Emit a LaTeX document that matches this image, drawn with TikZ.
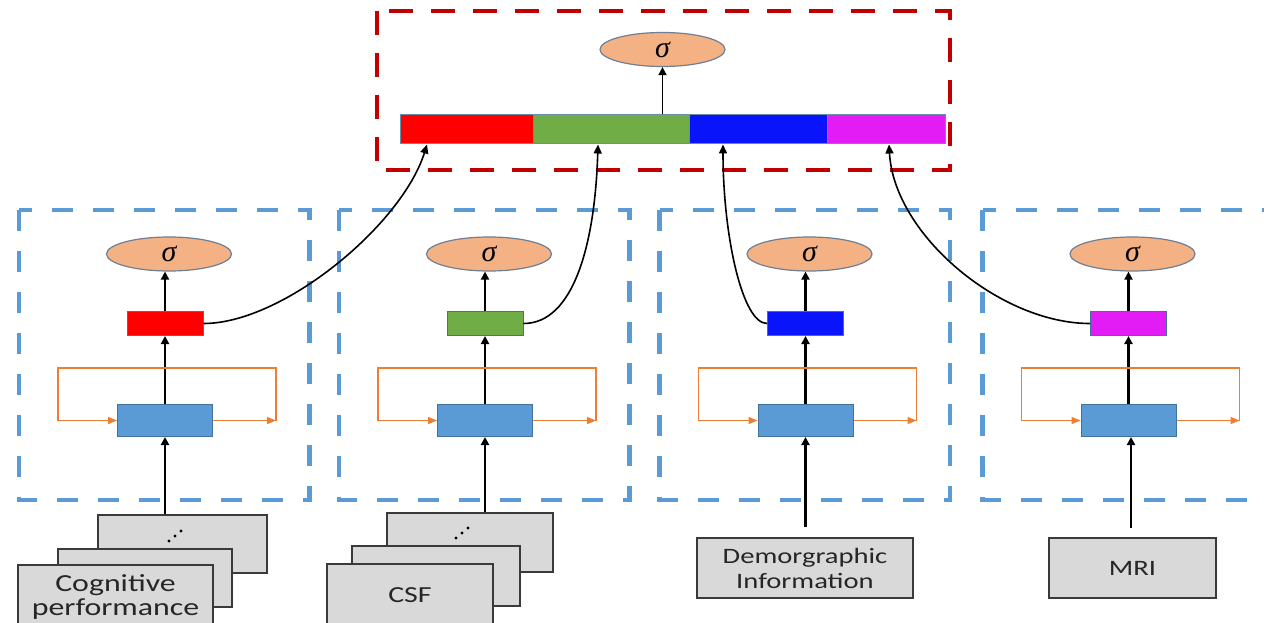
\documentclass[tikz,border=0pt]{standalone}
\usepackage{fontspec}
\setmainfont{Carlito}[FakeStretch=1.3]
\newfontfamily\sigfont{Liberation Serif}
\usetikzlibrary{shapes.geometric,arrows.meta,calc}
\definecolor{pblue}{HTML}{5B9BD5}
\definecolor{pred}{HTML}{C00000}
\definecolor{sigfill}{HTML}{F4B183}
\definecolor{sigedge}{HTML}{6D7F95}
\definecolor{cellfill}{HTML}{5B9BD5}
\definecolor{celledge}{HTML}{41719C}
\definecolor{oline}{HTML}{ED7D31}
\definecolor{cred}{HTML}{FF0000}
\definecolor{cgreen}{HTML}{70AD47}
\definecolor{cblue}{HTML}{0A14FA}
\definecolor{cmag}{HTML}{E31CF5}
\definecolor{boxfill}{HTML}{D9D9D9}
\definecolor{boxedge}{HTML}{3A3A3A}
\definecolor{txt}{HTML}{262626}
\begin{document}
\begin{tikzpicture}[x=1pt,y=-1pt,
  panel/.style={draw=pblue, line width=4.5pt, dash pattern=on 21pt off 20pt},
  outer/.style={draw=pred, line width=4.5pt, dash pattern=on 24pt off 18pt},
  sig/.style={ellipse, draw=sigedge, fill=sigfill, line width=1.2pt, minimum width=125pt, minimum height=34pt, inner sep=0pt, font=\sigfont\itshape\fontsize{30}{30}\selectfont},
  hid/.style={draw=celledge, line width=1pt, minimum width=76pt, minimum height=24pt, inner sep=0pt},
  cell/.style={draw=celledge, fill=cellfill, line width=1pt, minimum width=95pt, minimum height=32pt, inner sep=0pt},
  seg/.style={draw=celledge!80, line width=1pt, minimum height=29pt, inner sep=0pt},
  inbox/.style={draw=boxedge, fill=boxfill, line width=1.6pt, inner sep=0pt, align=center, text=txt, font=\fontsize{22}{25}\selectfont},
  arr/.style={draw=black, line width=2.2pt, -{Triangle[length=8pt,width=8pt]}},
  link/.style={draw=black, line width=1.6pt, -{Triangle[length=9pt,width=8pt]}},
  loopline/.style={draw=oline, line width=1.4pt},
  looparr/.style={draw=oline, line width=1.4pt, -{Triangle[length=9pt,width=7pt]}},
]
\fill[white] (0,0) rectangle (1264,623);
\useasboundingbox (0,0) rectangle (1264,623);

% top fusion block
\draw[outer] (377,11) rectangle (950,170);
\node[sig] (sig0) at (662.5,49.5) {σ};
\node[seg, fill=cred, minimum width=133pt] (s1) at (466.5,129.5) {};
\node[seg, fill=cgreen, minimum width=156pt] (s2) at (611,129.5) {};
\node[seg, fill=cblue, minimum width=138pt] (s3) at (758,129.5) {};
\node[seg, fill=cmag, minimum width=118pt] (s4) at (886,129.5) {};
\draw[arr, line width=1.7pt] (sig0.south |- s2.north) -- (sig0.south);

% panels
\foreach \i/\cx/\col in {1/165/cred,2/485/cgreen,3/805.5/cblue,4/1128.5/cmag}{
  \draw[panel] (\cx-146,210) rectangle (\cx+144.5,500);
  \node[sig] (sig\i) at (\cx+4,254) {σ};
  \node[hid, fill=\col] (h\i) at (\cx,323.5) {};
  \node[cell] (c\i) at (\cx,420.5) {};
  \draw[arr] (c\i.north) -- (h\i.south);
  \draw[arr] (h\i.north) -- (h\i.north |- sig\i.south);
  \draw[looparr] (c\i.east) -- ($(c\i.center)+(111,0)$);
  \draw[loopline] ($(c\i.center)+(111,0)$) -- ($(c\i.center)+(111,-52.5)$) -- ($(c\i.center)+(-107,-52.5)$) -- ($(c\i.center)+(-107,0)$);
  \draw[looparr] ($(c\i.center)+(-107,0)$) -- (c\i.west);
}

% links to the fused vector
\draw[link] (h1.east) .. controls +(80,0) and +(-25,80) .. ($(s1.south)+(-39.5,0)$);
\draw[link] (h2.east) .. controls +(50,0) and +(-3,100) .. ($(s2.south)+(-13,0)$);
\draw[link] (h3.west) .. controls +(-25,0) and +(0,90) .. ($(s3.south)+(-35,0)$);
\draw[link] (h4.west) .. controls +(-90,0) and +(5,90) .. ($(s4.south)+(3,0)$);

% inputs
\node[inbox, minimum width=169pt, minimum height=58pt] (b1) at (182.5,544) {};
\node[inbox, minimum width=174pt, minimum height=58pt] (m1) at (145,578) {};
\node[inbox, minimum width=195pt, minimum height=64pt, font=\fontsize{24.5}{23.5}\selectfont] (f1) at (115.5,597) {Cognitive\\performance};
\fill (169,541) circle (1.7pt) (175,536) circle (1.7pt) (181,531) circle (1.7pt);

\node[inbox, minimum width=166pt, minimum height=59pt] (b2) at (470,542.5) {};
\node[inbox, minimum width=168pt, minimum height=60pt] (m2) at (436,576) {};
\node[inbox, minimum width=166pt, minimum height=62pt, font=\fontsize{23}{25}\selectfont] (f2) at (410,595) {CSF};
\fill (456,538) circle (1.7pt) (462,533) circle (1.7pt) (468,528) circle (1.7pt);

\node[inbox, minimum width=216pt, minimum height=60pt] (d3) at (805,568) {Demorgraphic\\Information};
\node[inbox, minimum width=167pt, minimum height=60pt] (d4) at (1132.5,568) {MRI};

\draw[arr] (c1.south |- b1.north) -- (c1.south);
\draw[arr] (c2.south |- b2.north) -- (c2.south);
\coordinate (i3) at (805.5,527);
\draw[arr] (i3) -- (c3.south);
\coordinate (i4) at (1131,528);
\draw[arr] (i4) -- (i4 |- c4.south);
\end{tikzpicture}
\end{document}
